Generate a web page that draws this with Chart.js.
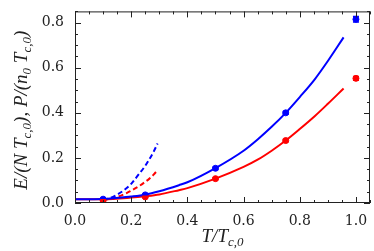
<!DOCTYPE html>
<html>
<head>
<meta charset="utf-8">
<script src="https://cdn.jsdelivr.net/npm/chart.js@4"></script>
<style>
  html, body { margin: 0; padding: 0; background: #fff; }
  #wrap { width: 374px; height: 251px; }
</style>
</head>
<body>
<div id="wrap"><canvas id="chart" width="374" height="251"></canvas></div>
<script>
// data
const tSolid = [0, 0.1, 0.2, 0.25, 0.3, 0.37, 0.4, 0.5, 0.6, 0.65, 0.7, 0.75, 0.8, 0.854, 0.9, 0.956];
const eSolid = [0.017, 0.018, 0.029, 0.037, 0.052, 0.079, 0.092, 0.155, 0.232, 0.282, 0.338, 0.40, 0.47, 0.55, 0.63, 0.735];
const pSolid = [0.017, 0.017, 0.024, 0.03, 0.038, 0.057, 0.066, 0.108, 0.16, 0.192, 0.232, 0.277, 0.328, 0.386, 0.44, 0.508];

const tDash = [0.1, 0.123, 0.15, 0.182, 0.2, 0.228, 0.25, 0.264, 0.28, 0.294];
const eDash = [0.017, 0.021, 0.037, 0.064, 0.085, 0.129, 0.165, 0.193, 0.228, 0.264];
const pDash = [0.015, 0.017, 0.027, 0.043, 0.055, 0.075, 0.094, 0.107, 0.126, 0.146];

const tPts = [0.1, 0.25, 0.5, 0.75, 1.0];
const ePts = [0.017, 0.036, 0.154, 0.40, 0.815];
const eErr = [0.004, 0.004, 0.005, 0.006, 0.012];
const pPts = [0.011, 0.027, 0.108, 0.277, 0.553];
const pErr = [0.003, 0.003, 0.004, 0.005, 0.008];

const xMajor = [0, 0.2, 0.4, 0.6, 0.8, 1.0];
const yMajor = [0, 0.2, 0.4, 0.6, 0.8];
const xLabels = ['0.0', '0.2', '0.4', '0.6', '0.8', '1.0'];
const yLabels = ['0.0', '0.2', '0.4', '0.6', '0.8'];
const minorStep = 0.05;

const BLUE = '#0000ff';
const RED = '#ff0000';

const zip = (xs, ys) => xs.map((x, i) => ({ x: x, y: ys[i] }));

// frame with inward ticks on all four sides, plus error bars
const framePlugin = {
  id: 'frame',
  afterDatasetsDraw(chart) {
    const { ctx, chartArea: a, scales: { x, y } } = chart;
    ctx.save();
    // error bars
    [[ePts, eErr, BLUE], [pPts, pErr, RED]].forEach(([vals, errs, col]) => {
      ctx.strokeStyle = col;
      ctx.lineWidth = 1.5;
      vals.forEach((v, i) => {
        const px = x.getPixelForValue(tPts[i]);
        const y1 = y.getPixelForValue(v - errs[i]);
        const y2 = y.getPixelForValue(v + errs[i]);
        ctx.beginPath();
        ctx.moveTo(px, y1); ctx.lineTo(px, y2);
        ctx.moveTo(px - 3, y1); ctx.lineTo(px + 3, y1);
        ctx.moveTo(px - 3, y2); ctx.lineTo(px + 3, y2);
        ctx.stroke();
      });
    });
    // frame
    ctx.strokeStyle = '#222';
    ctx.lineWidth = 1;
    ctx.strokeRect(a.left + 0.5, a.top + 0.5, a.right - a.left - 1, a.bottom - a.top - 1);
    ctx.beginPath();
    for (let v = 0; v <= x.max + 1e-9; v += minorStep) {
      const major = Math.abs(v / 0.2 - Math.round(v / 0.2)) < 1e-6;
      const len = major ? 6 : 3;
      const px = Math.round(x.getPixelForValue(v)) + 0.5;
      ctx.moveTo(px, a.bottom); ctx.lineTo(px, a.bottom - len);
      ctx.moveTo(px, a.top); ctx.lineTo(px, a.top + len);
    }
    for (let v = 0; v <= y.max + 1e-9; v += minorStep) {
      const major = Math.abs(v / 0.2 - Math.round(v / 0.2)) < 1e-6;
      const len = major ? 6 : 3;
      const py = Math.round(y.getPixelForValue(v)) + 0.5;
      ctx.moveTo(a.left, py); ctx.lineTo(a.left + len, py);
      ctx.moveTo(a.right, py); ctx.lineTo(a.right - len, py);
    }
    ctx.stroke();
    ctx.restore();
  },
  afterDraw(chart) {
    const { ctx, chartArea: a } = chart;
    const big = 'italic 19px "Liberation Serif"';
    const small = 'italic 13px "Liberation Serif"';
    const drawRuns = (runs, cx, cy) => {
      let w = 0;
      runs.forEach(r => { ctx.font = r[1] ? small : big; w += ctx.measureText(r[0]).width; });
      let pos = cx - w / 2;
      runs.forEach(r => {
        ctx.font = r[1] ? small : big;
        ctx.fillText(r[0], pos, cy + (r[1] ? 4 : 0));
        pos += ctx.measureText(r[0]).width;
      });
    };
    ctx.save();
    ctx.fillStyle = '#222';
    ctx.textBaseline = 'alphabetic';
    drawRuns([['T/T', 0], ['c,0', 1]], (a.left + a.right) / 2, 242);
    ctx.translate(27, (a.top + a.bottom) / 2 + 3);
    ctx.rotate(-Math.PI / 2);
    drawRuns([['E/(N T', 0], ['c,0', 1], ['), P/(n', 0], ['0', 1], [' T', 0], ['c,0', 1], [')', 0]], 0, 0);
    ctx.restore();
  }
};

const lineSet = (data, col, dash) => ({
  data: data, showLine: true, borderColor: col, borderWidth: 2,
  borderDash: dash || [], pointRadius: 0, tension: 0.4, cubicInterpolationMode: 'monotone', fill: false
});
const ptSet = (data, col) => ({
  data: data, showLine: false, backgroundColor: col, borderColor: col, pointRadius: 3, pointHoverRadius: 3
});

new Chart(document.getElementById('chart').getContext('2d'), {
  type: 'scatter',
  data: {
    datasets: [
      lineSet(zip(tSolid, eSolid), BLUE),
      lineSet(zip(tSolid, pSolid), RED),
      lineSet(zip(tDash, eDash), BLUE, [5, 3]),
      lineSet(zip(tDash, pDash), RED, [5, 3]),
      ptSet(zip(tPts, ePts), BLUE),
      ptSet(zip(tPts, pPts), RED)
    ]
  },
  options: {
    responsive: false,
    animation: false,
    layout: { padding: { top: 5, right: 1, left: 0, bottom: 0 } },
    plugins: { legend: { display: false }, tooltip: { enabled: false } },
    scales: {
      x: {
        type: 'linear', min: 0, max: 1.05,
        grid: { display: false }, border: { display: false },
        afterBuildTicks: s => { s.ticks = xMajor.map(v => ({ value: v })); },
        afterFit: s => { s.height = 48; },
        ticks: {
          padding: 2, maxRotation: 0, color: '#222',
          font: { family: 'DejaVu Serif', size: 14 },
          callback: (v) => xLabels[xMajor.findIndex(m => Math.abs(m - v) < 1e-6)]
        }
      },
      y: {
        type: 'linear', min: 0, max: 0.85,
        grid: { display: false }, border: { display: false },
        afterBuildTicks: s => { s.ticks = yMajor.map(v => ({ value: v })); },
        afterFit: s => { s.width = 75; },
        ticks: {
          padding: 3, color: '#222',
          font: { family: 'DejaVu Serif', size: 14 },
          callback: (v) => yLabels[yMajor.findIndex(m => Math.abs(m - v) < 1e-6)]
        }
      }
    }
  },
  plugins: [framePlugin]
});
</script>
</body>
</html>
